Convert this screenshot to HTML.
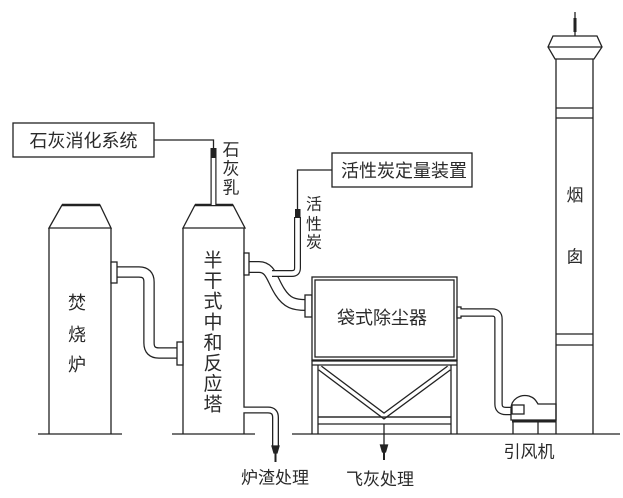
<!DOCTYPE html>
<html><head><meta charset="utf-8"><style>
html,body{margin:0;padding:0;background:#fff;}
svg{display:block;}
text{font-family:"Liberation Sans","Noto Sans CJK SC",sans-serif;fill:#2a2a2a;}
</style></head><body>
<svg width="623" height="498" viewBox="0 0 623 498" xmlns="http://www.w3.org/2000/svg">
<rect width="623" height="498" fill="#fff"/>
<g stroke="#222" stroke-width="1.3" fill="none">
  <!-- Furnace -->
  <path d="M49,228 L62,205 L100,205 L111,228 Z" fill="#fff"/>
  <line x1="62" y1="205" x2="100" y2="205" stroke-width="2.6"/>
  <line x1="49" y1="228" x2="49" y2="434"/>
  <line x1="111" y1="228" x2="111" y2="434"/>
  <line x1="38" y1="434" x2="122" y2="434"/>
  <!-- Tower -->
  <path d="M183,228 L195,205 L233,205 L245,228 Z" fill="#fff"/>
  <line x1="195" y1="205" x2="233" y2="205" stroke-width="2.6"/>
  <line x1="183" y1="228" x2="183" y2="434"/>
  <line x1="244" y1="228" x2="244" y2="434"/>
  <line x1="172" y1="434" x2="255" y2="434"/>

  <!-- pipe furnace->tower -->
  <path d="M116,272 H139 Q149,272 149,282 V343 Q149,353 159,353 H178" stroke-width="11.5"/>
  <path d="M116,272 H139 Q149,272 149,282 V343 Q149,353 159,353 H178" stroke="#fff" stroke-width="9"/>
  <rect x="111" y="262" width="6" height="21" fill="#fff"/>
  <rect x="177" y="342" width="6" height="23" fill="#fff"/>

  <!-- lime system -->
  <rect x="13" y="123" width="141" height="34" fill="#fff"/>
  <path d="M154,140 H213.5 V148"/>
  <path d="M213.5,158 V205" stroke-width="6"/>
  <path d="M213.5,158 V205" stroke="#fff" stroke-width="3.6"/>
  <rect x="210.5" y="148" width="6" height="10" fill="#222" stroke="none"/>

  <!-- pipe tower->baghouse -->
  <path d="M248,267 H259 C271,267 272,280 280,292 C287,303 294,305 306,305" stroke-width="12"/>
  <path d="M248,267 H259 C271,267 272,280 280,292 C287,303 294,305 306,305" stroke="#fff" stroke-width="9.5"/>
  <rect x="244" y="253" width="5" height="22" fill="#fff"/>
  <!-- activated carbon branch -->
  <path d="M272,273.5 H292 Q297.5,273.5 297.5,268 V217" stroke-width="7"/>
  <path d="M270,273.5 H292 Q297.5,273.5 297.5,268 V217" stroke="#fff" stroke-width="4.6"/>
  <path d="M297.5,210 V170 H332"/>
  <rect x="295" y="209" width="5.5" height="9" fill="#222" stroke="none"/>
  <rect x="332" y="153" width="140" height="34" fill="#fff"/>

  <!-- baghouse -->
  <rect x="305" y="295" width="7" height="22" fill="#fff"/>
  <rect x="312" y="277" width="145" height="83" fill="#fff"/>
  <rect x="315" y="280" width="139" height="77"/>
  <line x1="312" y1="361" x2="457" y2="361"/>
  <line x1="312" y1="365" x2="457" y2="365"/>
  <line x1="312" y1="360" x2="312" y2="434"/>
  <line x1="457" y1="360" x2="457" y2="434"/>
  <line x1="318" y1="365" x2="318" y2="434"/>
  <line x1="451" y1="365" x2="451" y2="434"/>
  <line x1="318" y1="417" x2="451" y2="417"/>
  <line x1="318" y1="424" x2="451" y2="424"/>
  <path d="M320,368 L384,416 L449,368" stroke-width="6" stroke-linejoin="miter"/>
  <path d="M320,368 L384,416 L449,368" stroke="#fff" stroke-width="3.4"/>
  <line x1="318" y1="417" x2="451" y2="417"/>
  <!-- fly ash -->
  <line x1="384" y1="424" x2="384" y2="460"/>
  <path d="M380.5,445 H387.5 L385.5,452 H382.5 Z" fill="#222"/>
  <line x1="384" y1="450" x2="384" y2="460" stroke-width="2"/>

  <!-- slag -->
  <path d="M244,410 H268 Q275.5,410 275.5,417.5 V446" stroke-width="7"/>
  <path d="M243,410 H268 Q275.5,410 275.5,417.5 V447" stroke="#fff" stroke-width="4.4"/>
  <path d="M272,446 H279 L277,453 H274 Z" fill="#222"/>
  <line x1="275.5" y1="450" x2="275.5" y2="462" stroke-width="2"/>

  <!-- baghouse outlet to fan -->
  <rect x="457" y="307" width="4" height="11" fill="#fff"/>
  <path d="M461,312.5 H492 Q498.5,312.5 498.5,319 V404 Q498.5,411 506,411 H516" stroke-width="8.5"/>
  <path d="M460,312.5 H492 Q498.5,312.5 498.5,319 V404 Q498.5,411 506,411 H516" stroke="#fff" stroke-width="6"/>
  <!-- fan -->
  <path d="M511,420 L511,409 C511,399 520,394 529,396 C535,398 536,401 538,404 L556,404 L556,420 Z" fill="#fff"/>
  <rect x="512" y="405" width="12" height="9" fill="#fff"/>
  <line x1="512" y1="421" x2="556" y2="421" stroke-width="3"/>
  <line x1="513" y1="421" x2="513" y2="434"/>
  <line x1="538" y1="421" x2="538" y2="434"/>

  <!-- chimney -->
  <path d="M553,36 L597,36 L602,47 L594,59 L555,59 L548,47 Z" fill="#fff"/>
  <line x1="548" y1="47" x2="602" y2="47"/>
  <line x1="556" y1="59" x2="556" y2="434"/>
  <line x1="593" y1="59" x2="593" y2="434"/>
  <line x1="556" y1="108" x2="593" y2="108"/>
  <line x1="556" y1="118" x2="593" y2="118"/>
  <line x1="556" y1="334" x2="593" y2="334"/>
  <line x1="556" y1="345" x2="593" y2="345"/>
  <line x1="575" y1="12" x2="575" y2="36"/>
  <line x1="575" y1="18" x2="575" y2="32" stroke-width="3"/>

  <!-- ground -->
  <line x1="292" y1="434" x2="620" y2="434"/>
</g>

<g font-size="18" text-anchor="middle" dominant-baseline="central">
  <text x="83.5" y="141">石灰消化系统</text>
  <text x="404" y="171">活性炭定量装置</text>
  <text x="382" y="318">袋式除尘器</text>
  <g font-size="17">
    <text x="231" y="150">石</text>
    <text x="231" y="169">灰</text>
    <text x="231" y="188">乳</text>
  </g>
  <g font-size="16">
    <text x="314" y="205">活</text>
    <text x="314" y="225">性</text>
    <text x="314" y="243">炭</text>
  </g>
  <text x="77" y="303">焚</text>
  <text x="77" y="335">烧</text>
  <text x="77" y="365">炉</text>
  <g font-size="19">
    <text x="213" y="261">半</text>
    <text x="213" y="281.6">干</text>
    <text x="213" y="302.2">式</text>
    <text x="213" y="322.8">中</text>
    <text x="213" y="343.4">和</text>
    <text x="213" y="364">反</text>
    <text x="213" y="384.6">应</text>
    <text x="213" y="405">塔</text>
  </g>
  <g font-size="17">
    <text x="575" y="195.5">烟</text>
    <text x="575" y="257">囱</text>
    <text x="275" y="478">炉渣处理</text>
    <text x="380" y="479.5">飞灰处理</text>
    <text x="529" y="452">引风机</text>
  </g>
</g>
</svg>
</body></html>
